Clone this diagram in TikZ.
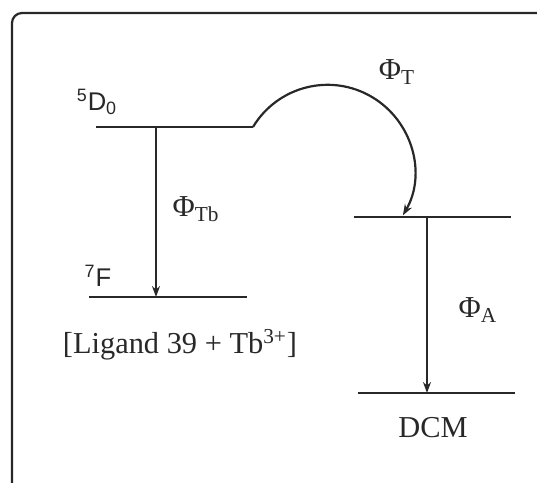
\documentclass[tikz,border=0pt]{standalone}
\usepackage{fontspec}
\setmainfont{Liberation Serif}
\setsansfont{Liberation Sans}
\usepackage{tikz}
\usetikzlibrary{arrows.meta,calc}
\definecolor{inkgray}{RGB}{40,40,40}
\tikzset{
  level/.style={draw=inkgray,line width=1.1pt},
  trans/.style={draw=inkgray,line width=0.95pt,-{Stealth[length=5.5pt,width=4pt]}},
  lbl/.style={inner sep=0pt,text=inkgray,font=\fontsize{15.2}{18}\selectfont},
  term/.style={inner sep=0pt,text=inkgray,font=\sffamily\fontsize{12.8}{15}\selectfont}
}
\begin{document}
\begin{tikzpicture}[x=0.5pt,y=0.5pt]
  \useasboundingbox (0,0) rectangle (537,-483);
  \clip (0,0) rectangle (537,-483);
  % frame
  \draw[draw=inkgray,line width=1.1pt,rounded corners=5pt] (12,-13) rectangle (600,-540);
  % energy levels
  \coordinate (d0l) at (96,-127);  \coordinate (d0r) at (253,-127);
  \coordinate (f7l) at (89,-297);  \coordinate (f7r) at (247,-297);
  \coordinate (al) at (354,-217);  \coordinate (ar) at (511,-217);
  \coordinate (gl) at (358,-393);  \coordinate (gr) at (515,-393);
  \draw[level] (d0l) -- (d0r);
  \draw[level] (f7l) -- (f7r);
  \draw[level] (al) -- (ar);
  \draw[level] (gl) -- (gr);
  % transitions
  \coordinate (tb1) at (156,-127); \coordinate (tb2) at (156,-297);
  \coordinate (a1) at (427,-217);  \coordinate (a2) at (427,-393);
  \draw[trans] (tb1) -- (tb2);
  \draw[trans] (a1) -- (a2);
  \draw[trans,line width=1.1pt] (d0r) arc[start angle=149,end angle=-30,radius=87];
  % labels
  \node[term] (d0) at (97,-102) {\textsuperscript{5}D\textsubscript{0}};
  \node[term] (f7) at (98,-276) {\textsuperscript{7}F};
  \node[lbl] (phiT) at (397,-72) {Φ\textsubscript{T}};
  \node[lbl] (phiTb) at (196,-209) {Φ\textsubscript{Tb}};
  \node[lbl] (phiA) at (478,-310) {Φ\textsubscript{A}};
  \node[lbl] (ligand) at (180,-345) {[Ligand 39 + Tb\textsuperscript{3+}]};
  \node[lbl] (dcm) at (433,-428) {DCM};
\end{tikzpicture}
\end{document}
